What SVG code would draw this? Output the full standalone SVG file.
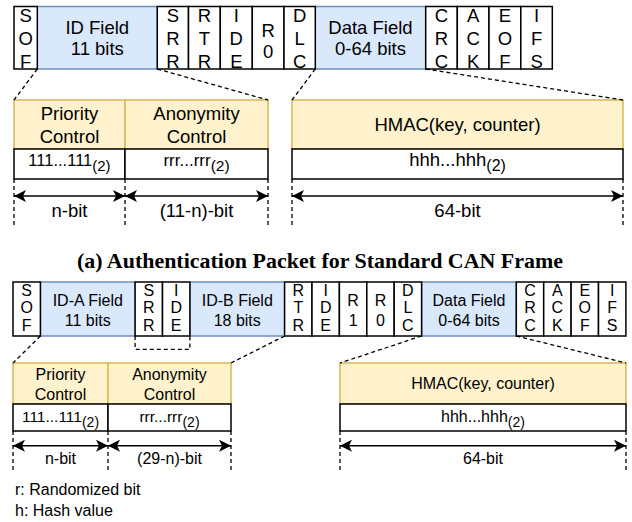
<svg xmlns="http://www.w3.org/2000/svg" width="632" height="522" viewBox="0 0 632 522">
<style>
.w{fill:#fff;stroke:#000;stroke-width:1.5}
.b{fill:#dae8fc;stroke:#6c8ebf;stroke-width:1.5}
.y{fill:#fff2cc;stroke:#d6b656;stroke-width:1.5}
.d{fill:none;stroke:#000;stroke-width:1.3;stroke-dasharray:4 3}
.a{fill:none;stroke:#000;stroke-width:1.5;marker-start:url(#ah);marker-end:url(#ah)}
.t{font-family:"Liberation Sans",Arial,Helvetica,sans-serif;fill:#000;text-anchor:middle}
.l{font-family:"Liberation Sans",Arial,Helvetica,sans-serif;fill:#000;font-size:16px}
.f1{font-size:18.5px}
.f2{font-size:16px}
.cap{font-family:"Liberation Serif","Times New Roman",serif;font-weight:bold;font-size:22px;text-anchor:middle;fill:#000}
</style>
<defs>
<marker id="ah" markerUnits="userSpaceOnUse" markerWidth="13" markerHeight="12" refX="12" refY="6" orient="auto-start-reverse">
<path d="M0,0 L12,6 L0,12 L3,6 z" fill="#000"/>
</marker>
</defs>

<!-- Row 1 frame -->
<g id="r1-frame">
<g id="r1-id"><rect class="b" x="37.3" y="6.5" width="120" height="62.5"/><text class="t f1" x="97.3" y="33.5">ID Field</text><text class="t f1" x="97.3" y="55">11 bits</text></g>
<g id="r1-data"><rect class="b" x="315.3" y="6.5" width="110.4" height="62.5"/><text class="t f1" x="370.5" y="33.5">Data Field</text><text class="t f1" x="370.5" y="55">0-64 bits</text></g>
<g id="r1-sof"><rect class="w" x="14" y="6.5" width="23.3" height="62.5"/><text class="t f1"><tspan x="25.6" y="22">S</tspan><tspan x="25.6" y="45">O</tspan><tspan x="25.6" y="68">F</tspan></text></g>
<g id="r1-srr"><rect class="w" x="157.3" y="6.5" width="31.2" height="62.5"/><text class="t f1"><tspan x="172.9" y="22">S</tspan><tspan x="172.9" y="45">R</tspan><tspan x="172.9" y="68">R</tspan></text></g>
<g id="r1-rtr"><rect class="w" x="188.5" y="6.5" width="31.8" height="62.5"/><text class="t f1"><tspan x="204.4" y="22">R</tspan><tspan x="204.4" y="45">T</tspan><tspan x="204.4" y="68">R</tspan></text></g>
<g id="r1-ide"><rect class="w" x="220.3" y="6.5" width="32" height="62.5"/><text class="t f1"><tspan x="236.3" y="22">I</tspan><tspan x="236.3" y="45">D</tspan><tspan x="236.3" y="68">E</tspan></text></g>
<g id="r1-r0"><rect class="w" x="252.3" y="6.5" width="31.7" height="62.5"/><text class="t f1"><tspan x="268.2" y="36.5">R</tspan><tspan x="268.2" y="58">0</tspan></text></g>
<g id="r1-dlc"><rect class="w" x="284" y="6.5" width="31.3" height="62.5"/><text class="t f1"><tspan x="299.7" y="22">D</tspan><tspan x="299.7" y="45">L</tspan><tspan x="299.7" y="68">C</tspan></text></g>
<g id="r1-crc"><rect class="w" x="425.7" y="6.5" width="31.6" height="62.5"/><text class="t f1"><tspan x="441.5" y="22">C</tspan><tspan x="441.5" y="45">R</tspan><tspan x="441.5" y="68">C</tspan></text></g>
<g id="r1-ack"><rect class="w" x="457.3" y="6.5" width="31.7" height="62.5"/><text class="t f1"><tspan x="473.2" y="22">A</tspan><tspan x="473.2" y="45">C</tspan><tspan x="473.2" y="68">K</tspan></text></g>
<g id="r1-eof"><rect class="w" x="489" y="6.5" width="31.8" height="62.5"/><text class="t f1"><tspan x="504.9" y="22">E</tspan><tspan x="504.9" y="45">O</tspan><tspan x="504.9" y="68">F</tspan></text></g>
<g id="r1-ifs"><rect class="w" x="520.8" y="6.5" width="31.5" height="62.5"/><text class="t f1"><tspan x="536.6" y="22">I</tspan><tspan x="536.6" y="45">F</tspan><tspan x="536.6" y="68">S</tspan></text></g>
</g>

<!-- Row 1 expansion -->
<g id="r1-priority"><rect class="y" x="14" y="100" width="111" height="49"/><text class="t f1" x="69.5" y="119.5">Priority</text><text class="t f1" x="69.5" y="143">Control</text></g>
<g id="r1-anon"><rect class="y" x="125" y="100" width="143" height="49"/><text class="t f1" x="196.5" y="119.5">Anonymity</text><text class="t f1" x="196.5" y="143">Control</text></g>
<g id="r1-pval"><rect class="w" x="14" y="149" width="111" height="30"/><text class="t" x="69.5" y="166" font-size="16.5">111...111<tspan font-size="15" dy="5">(2)</tspan></text></g>
<g id="r1-aval"><rect class="w" x="125" y="149" width="143" height="30"/><text class="t" x="196.5" y="166" font-size="17">rrr...rrr<tspan font-size="15.5" dy="5">(2)</tspan></text></g>
<g id="r1-hmac"><rect class="y" x="292" y="100" width="331" height="49"/><text class="t f1" x="457.5" y="130.7">HMAC(key, counter)</text></g>
<g id="r1-hval"><rect class="w" x="292" y="149" width="331" height="30"/><text class="t" x="457.5" y="166" font-size="18.5">hhh...hhh<tspan font-size="16" dy="5">(2)</tspan></text></g>
<g id="r1-dims">
<text class="t f1" x="69.5" y="217">n-bit</text>
<text class="t f1" x="196.5" y="217">(11-n)-bit</text>
<text class="t f1" x="457.5" y="217">64-bit</text>
</g>

<text id="caption" class="cap" x="320" y="268" textLength="486" lengthAdjust="spacingAndGlyphs">(a) Authentication Packet for Standard CAN Frame</text>

<!-- Row 2 frame -->
<g id="r2-frame">
<g id="r2-ida"><rect class="b" x="40.4" y="282" width="94.7" height="54"/><text class="t f2" x="87.75" y="305.5">ID-A Field</text><text class="t f2" x="87.75" y="325.5">11 bits</text></g>
<g id="r2-idb"><rect class="b" x="189.9" y="282" width="94.7" height="54"/><text class="t f2" x="237.25" y="305.5">ID-B Field</text><text class="t f2" x="237.25" y="325.5">18 bits</text></g>
<g id="r2-data"><rect class="b" x="421.6" y="282" width="94.7" height="54"/><text class="t f2" x="469" y="305.5">Data Field</text><text class="t f2" x="469" y="325.5">0-64 bits</text></g>
<g id="r2-sof"><rect class="w" x="13" y="282" width="27.4" height="54"/><text class="t f2"><tspan x="26.7" y="295.5">S</tspan><tspan x="26.7" y="313">O</tspan><tspan x="26.7" y="330.5">F</tspan></text></g>
<g id="r2-srr"><rect class="w" x="135.1" y="282" width="27.4" height="54"/><text class="t f2"><tspan x="148.8" y="295.5">S</tspan><tspan x="148.8" y="313">R</tspan><tspan x="148.8" y="330.5">R</tspan></text></g>
<g id="r2-ide1"><rect class="w" x="162.5" y="282" width="27.4" height="54"/><text class="t f2"><tspan x="176.2" y="295.5">I</tspan><tspan x="176.2" y="313">D</tspan><tspan x="176.2" y="330.5">E</tspan></text></g>
<g id="r2-rtr"><rect class="w" x="284.6" y="282" width="27.4" height="54"/><text class="t f2"><tspan x="298.3" y="295.5">R</tspan><tspan x="298.3" y="313">T</tspan><tspan x="298.3" y="330.5">R</tspan></text></g>
<g id="r2-ide2"><rect class="w" x="312" y="282" width="27.4" height="54"/><text class="t f2"><tspan x="325.7" y="295.5">I</tspan><tspan x="325.7" y="313">D</tspan><tspan x="325.7" y="330.5">E</tspan></text></g>
<g id="r2-r1"><rect class="w" x="339.4" y="282" width="27.4" height="54"/><text class="t f2"><tspan x="353.1" y="305.5">R</tspan><tspan x="353.1" y="325.5">1</tspan></text></g>
<g id="r2-r0"><rect class="w" x="366.8" y="282" width="27.4" height="54"/><text class="t f2"><tspan x="380.5" y="305.5">R</tspan><tspan x="380.5" y="325.5">0</tspan></text></g>
<g id="r2-dlc"><rect class="w" x="394.2" y="282" width="27.4" height="54"/><text class="t f2"><tspan x="407.9" y="295.5">D</tspan><tspan x="407.9" y="313">L</tspan><tspan x="407.9" y="330.5">C</tspan></text></g>
<g id="r2-crc"><rect class="w" x="516.3" y="282" width="27.4" height="54"/><text class="t f2"><tspan x="530" y="295.5">C</tspan><tspan x="530" y="313">R</tspan><tspan x="530" y="330.5">C</tspan></text></g>
<g id="r2-ack"><rect class="w" x="543.7" y="282" width="27.4" height="54"/><text class="t f2"><tspan x="557.4" y="295.5">A</tspan><tspan x="557.4" y="313">C</tspan><tspan x="557.4" y="330.5">K</tspan></text></g>
<g id="r2-eof"><rect class="w" x="571.1" y="282" width="27.4" height="54"/><text class="t f2"><tspan x="584.8" y="295.5">E</tspan><tspan x="584.8" y="313">O</tspan><tspan x="584.8" y="330.5">F</tspan></text></g>
<g id="r2-ifs"><rect class="w" x="598.5" y="282" width="27.4" height="54"/><text class="t f2"><tspan x="612.2" y="295.5">I</tspan><tspan x="612.2" y="313">F</tspan><tspan x="612.2" y="330.5">S</tspan></text></g>
</g>

<!-- Row 2 expansion -->
<g id="r2-priority"><rect class="y" x="13" y="363" width="95" height="41"/><text class="t f2" x="60.5" y="379.5">Priority</text><text class="t f2" x="60.5" y="399.5">Control</text></g>
<g id="r2-anon"><rect class="y" x="108" y="363" width="123" height="41"/><text class="t f2" x="169.5" y="379.5">Anonymity</text><text class="t f2" x="169.5" y="399.5">Control</text></g>
<g id="r2-pval"><rect class="w" x="13" y="404" width="95" height="27"/><text class="t" x="60.5" y="422" font-size="15.5">111...111<tspan font-size="14" dy="5">(2)</tspan></text></g>
<g id="r2-aval"><rect class="w" x="108" y="404" width="123" height="27"/><text class="t" x="169.5" y="422" font-size="15.5">rrr...rrr<tspan font-size="14" dy="5">(2)</tspan></text></g>
<g id="r2-hmac"><rect class="y" x="340" y="363" width="286" height="41"/><text class="t f2" x="483" y="389">HMAC(key, counter)</text></g>
<g id="r2-hval"><rect class="w" x="340" y="404" width="286" height="27"/><text class="t" x="483" y="422" font-size="16">hhh...hhh<tspan font-size="14" dy="5">(2)</tspan></text></g>
<g id="r2-dims">
<text class="t f2" x="60.5" y="463.5">n-bit</text>
<text class="t f2" x="169.5" y="463.5">(29-n)-bit</text>
<text class="t f2" x="483" y="463.5">64-bit</text>
</g>

<g id="legend">
<text class="l" x="15" y="494.5">r: Randomized bit</text>
<text class="l" x="15" y="515.5">h: Hash value</text>
</g>

<!-- Connectors -->
<g id="connectors">
<path class="d" d="M37.3,69 L14,100"/>
<path class="d" d="M157.3,69 L268,100"/>
<path class="d" d="M315.3,69 L292,100"/>
<path class="d" d="M425.7,69 L623,100"/>
<path class="d" d="M14,179 V227 M125,179 V227 M268,179 V227 M292,179 V227 M623,179 V227"/>
<path class="a" d="M14,196 H125"/>
<path class="a" d="M125,196 H268"/>
<path class="a" d="M292,196 H623"/>

<path class="d" d="M40.4,336 L13,363"/>
<path class="d" d="M284.6,336 L231,363"/>
<path class="d" d="M421.6,336 L340,363"/>
<path class="d" d="M516.3,336 L626,363"/>
<path class="d" d="M135.1,336 V349.3 H189.9 V336"/>
<path class="d" d="M13,431 V472 M108,431 V472 M231,431 V472 M340,431 V472 M626,431 V472"/>
<path class="a" d="M13,445.7 H108"/>
<path class="a" d="M108,445.7 H231"/>
<path class="a" d="M340,445.7 H626"/>
</g>
</svg>
